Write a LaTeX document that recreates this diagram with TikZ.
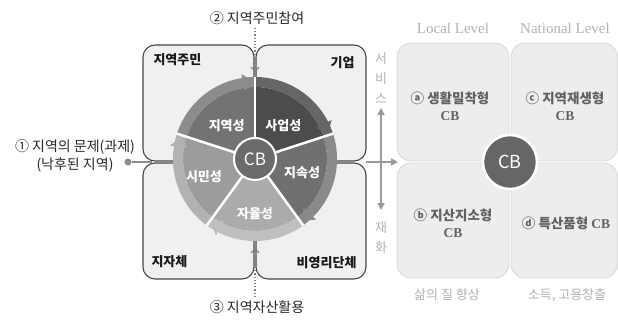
\documentclass[tikz,border=0pt]{standalone}
\usepackage{fontspec}
\setmainfont{Noto Sans CJK KR}
\newfontfamily\latinserif{Liberation Serif}
\usetikzlibrary{arrows.meta}

\begin{document}
\begin{tikzpicture}[x=1pt, y=1pt,
    lbox/.style={draw=black!72, line width=1.1pt, fill=black!6, rounded corners=12pt},
    rbox/.style={draw=black!15, line width=0.9pt, fill=black!7, rounded corners=14pt},
    actor/.style={font=\bfseries\fontsize{13}{13}\selectfont, text=black!90},
    seglabel/.style={font=\bfseries\fontsize{13}{13}\selectfont, text=white},
    cbdot/.style={circle, draw=white, line width=2pt, inner sep=0pt, text=white},
    note/.style={font=\fontsize{14}{18}\selectfont, text=black!85, align=center},
    pale/.style={font=\fontsize{13}{20}\selectfont, text=black!30, align=center},
    typetext/.style={font=\bfseries\fontsize{13.5}{17}\selectfont, text=black!62, align=center},
    dotarrow/.style={black!50, line width=1.2pt, dotted, -{Straight Barb[length=4pt,width=8pt]}},
    flow/.style={black!40, line width=1.8pt}]
    \useasboundingbox (0,0) rectangle (618,322);

    % Left panel: four actors
    \draw[lbox] (143,161) rectangle (254,277);
    \draw[lbox] (256,161) rectangle (366,277);
    \draw[lbox] (143,43) rectangle (254,159);
    \draw[lbox] (256,43) rectangle (366,159);
    \node[actor, anchor=west] (resid) at (150,262) {지역주민};
    \node[actor, anchor=east] (firm) at (358,259) {기업};
    \node[actor, anchor=west] (gov) at (148,60) {지자체};
    \node[actor, anchor=east] (npo) at (360,59) {비영리단체};

    % Cycle of five values round CB
    \begin{scope}[shift={(255,163)}]
        \foreach \a/\b/\cf/\cb/\txt/\la/\lr in {162/90/55/45/지역성/130/44,
            90/18/70/60/사업성/50/44, 18/-54/56/46/지속성/-16/49,
            -54/-126/33/25/자율성/-90/55, -126/-198/39/30/시민성/199/54} {
            \fill[black!\cf] (0,0) -- (\a:72pt) arc[start angle=\a, end angle=\b, radius=72pt] -- cycle;
            \fill[black!\cb] (\a:72pt) arc[start angle=\a, end angle=\b, radius=72pt]
                -- (\b:82pt) arc[start angle=\b, end angle=\a, radius=82pt] -- cycle;
            \node[seglabel] at (\la:\lr pt) {\txt};
        }
        \foreach \a in {90,18,-54,-126,162}
            \draw[white, line width=2.5pt] (\a:21pt) -- (\a:82pt);
        \foreach \b/\cb in {90/45, 18/60, -54/46, -126/25, -198/30}
            \fill[black!\cb] ({\b+9}:69pt) -- ({\b+1}:77pt) -- ({\b+9}:86pt) -- cycle;
        \node[cbdot, fill=black!58, minimum size=42pt, font=\fontsize{17}{17}\selectfont] (cbl) at (0,0) {CB};
    \end{scope}

    % Inputs
    \node[note] (prob) at (75,166) {① 지역의 문제(과제)\\(낙후된 지역)};
    \node[circle, fill=black!45, inner sep=0pt, minimum size=7pt] (dot) at (128,160) {};
    \coordinate (inlet) at (152,160);
    \draw[black!45, line width=1.5pt] (dot) -- (inlet);

    \node[note] (part) at (257,304) {② 지역주민참여};
    \coordinate (ringtop) at (255,250);
    \draw[dotarrow] (part.south -| ringtop) -- (ringtop);

    \node[note] (asset) at (257,15) {③ 지역자산활용};
    \coordinate (ringbot) at (255,74);
    \draw[dotarrow] (asset.north -| ringbot) -- (ringbot);

    % Between the panels
    \coordinate (lout) at (366,160);
    \coordinate (rin) at (398,160);
    \draw[flow, -{Triangle[length=7pt,width=7pt]}] (lout) -- (rin);
    \node[pale] (svc) at (381,244) {서\\비\\스};
    \node[pale] (goods) at (381,84) {재\\화};
    \coordinate (vtop) at (381,214);
    \coordinate (vbot) at (381,112);
    \draw[flow, {Triangle[length=7pt,width=7pt]}-{Triangle[length=7pt,width=7pt]}] (vtop) -- (vbot);

    % Right panel: four CB types
    \draw[rbox] (397,161) rectangle (509,279);
    \draw[rbox] (511,161) rectangle (617.5,279);
    \draw[rbox] (397,44) rectangle (509,159);
    \draw[rbox] (511,44) rectangle (617.5,159);
    \node[cbdot, fill=black!60, line width=2.5pt, minimum size=54pt, font=\fontsize{18}{18}\selectfont] (cbr) at (510,160) {CB};

    \node[typetext] (ta) at (450,216) {ⓐ 생활밀착형\\{\latinserif CB}};
    \node[typetext] (tc) at (565,216) {ⓒ 지역재생형\\{\latinserif CB}};
    \node[typetext] (tb) at (453,99) {ⓑ 지산지소형\\{\latinserif CB}};
    \node[typetext] (td) at (566,99) {ⓓ 특산품형 {\latinserif CB}};

    \node[pale, font=\latinserif\fontsize{15}{15}\selectfont] (loc) at (453,294) {Local Level};
    \node[pale, font=\latinserif\fontsize{15}{15}\selectfont] (nat) at (565,294) {National Level};
    \node[pale] (qol) at (447,27) {삶의 질 향상};
    \node[pale] (inc) at (567,27) {소득, 고용창출};
\end{tikzpicture}
\end{document}
